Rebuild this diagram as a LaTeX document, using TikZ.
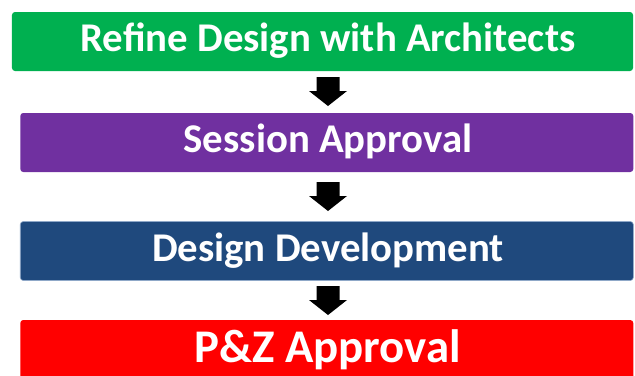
\documentclass[tikz,border=0pt]{standalone}
\usepackage{fontspec}
\setmainfont{Carlito}
\definecolor{cgreen}{HTML}{00B050}
\definecolor{cpurple}{HTML}{7030A0}
\definecolor{cblue}{HTML}{1F497D}
\definecolor{cblueedge}{HTML}{8FA8C8}
\definecolor{cred}{HTML}{FF0000}
\tikzset{
  stagebox/.style={rectangle, rounded corners=3bp, inner sep=0pt, draw=none},
  stagetext/.style={inner sep=0pt, text=white, font=\bfseries\fontsize{40.8bp}{42bp}\selectfont, anchor=base},
  bigtext/.style={stagetext, font=\bfseries\fontsize{46.8bp}{48bp}\selectfont},
  blockarrow/.style={fill=black, draw=none}
}
\newcommand{\downblock}[1]{%
  \fill[blockarrow, shift={(#1)}] (-11.5,-14) -- (11.5,-14) -- (11.5,0) -- (19,0) -- (0,15) -- (-19,0) -- (-11.5,0) -- cycle;}
\begin{document}
\begin{tikzpicture}[x=1bp,y=-1bp]
\useasboundingbox (0,0) rectangle (635,375);
\fill[white] (0,0) rectangle (635,375);
% boxes
\node[stagebox, fill=cgreen, minimum width=621bp, minimum height=59bp] (b1) at (322.5,41.5) {};
\node[stagebox, fill=cpurple, minimum width=613bp, minimum height=59bp] (b2) at (326.8,142.5) {};
\node[stagebox, fill=cblue, draw=cblueedge, line width=0.6bp, minimum width=613bp, minimum height=59bp] (b3) at (326.8,251) {};
\node[stagebox, fill=cred, minimum width=613bp, minimum height=70bp] (b4) at (326.8,355) {};
% texts
\node[stagetext] (t1) at (328,51.7) {Refine Design with Architects};
\node[stagetext] (t2) at (328,152.7) {Session Approval};
\node[stagetext] (t3) at (328,261.3) {Design Development};
\node[bigtext] (t4) at (327.5,362) {P\&Z Approval};
% arrows
\coordinate (a1) at (328,91);
\coordinate (a2) at (328,196);
\coordinate (a3) at (328,300);
\downblock{a1}
\downblock{a2}
\downblock{a3}
\end{tikzpicture}
\end{document}
